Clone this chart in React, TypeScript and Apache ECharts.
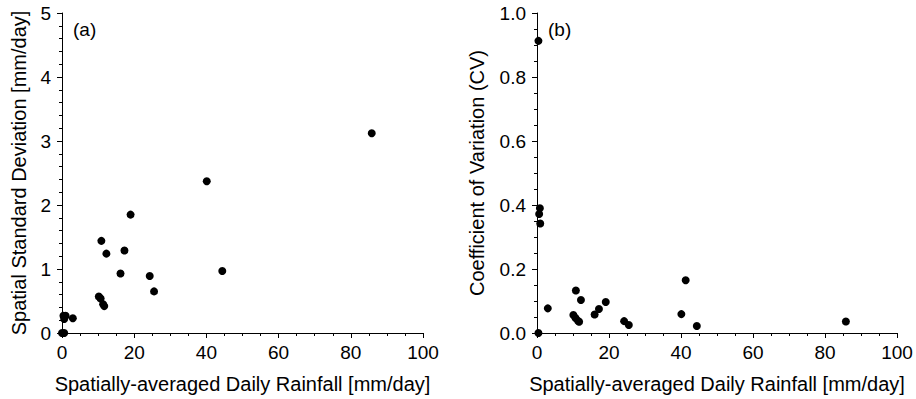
import React, { useEffect, useRef } from "react";
import * as echarts from "echarts";

// Panel (a): spatially-averaged daily rainfall vs spatial standard deviation
const rainA = [85.8, 40.1, 19.0, 10.9, 17.3, 12.3, 16.2, 24.3, 44.4, 25.5, 10.2, 10.7, 11.4, 11.7, 3.0, 0.4, 1.0, 0.6, 0.0, 0.6];
const sdA = [3.12, 2.37, 1.85, 1.44, 1.29, 1.24, 0.93, 0.89, 0.97, 0.65, 0.57, 0.54, 0.45, 0.42, 0.23, 0.27, 0.27, 0.22, 0.0, 0.0];

// Panel (b): spatially-averaged daily rainfall vs coefficient of variation
const rainB = [0.4, 0.8, 0.6, 0.9, 0.4, 3.0, 10.8, 12.2, 10.1, 10.7, 11.4, 11.7, 16.0, 17.2, 19.1, 24.2, 25.5, 40.1, 41.3, 44.4, 85.8];
const cvB = [0.913, 0.39, 0.372, 0.342, 0.0, 0.077, 0.133, 0.103, 0.056, 0.047, 0.038, 0.035, 0.058, 0.075, 0.097, 0.037, 0.025, 0.059, 0.165, 0.022, 0.036];

const xTitle = "Spatially-averaged Daily Rainfall [mm/day]";
const yTitleA = "Spatial Standard Deviation [mm/day]";
const yTitleB = "Coefficient of Variation (CV)";

const FONT = "Liberation Sans, Arial, sans-serif";

export default function App() {
  const ref = useRef<HTMLDivElement>(null);
  useEffect(() => {
    if (!ref.current) return;
    const chart = echarts.init(ref.current, null, { renderer: "svg" });
    const axisCommon = {
      axisLine: { show: true, onZero: false, lineStyle: { color: "#000", width: 1 } },
      axisTick: { show: true, inside: false, length: 5, lineStyle: { color: "#000" } },
      minorTick: { show: true, length: 3, lineStyle: { color: "#000" } },
      splitLine: { show: false },
      axisLabel: { color: "#000", fontSize: 19, fontFamily: FONT },
      nameTextStyle: { color: "#000", fontSize: 20, fontFamily: FONT },
      nameLocation: "middle" as const,
    };
    chart.setOption({
      animation: false,
      backgroundColor: "#fff",
      textStyle: { fontFamily: FONT },
      grid: [
        { left: 62, right: 493, top: 13, bottom: 63 },
        { left: 537, right: 19, top: 13, bottom: 63 },
      ],
      xAxis: [0, 1].map((i) => ({
        ...axisCommon,
        type: "value",
        gridIndex: i,
        min: 0,
        max: 100,
        interval: 20,
        minorTick: { ...axisCommon.minorTick, splitNumber: 4 },
        axisLabel: { ...axisCommon.axisLabel, margin: 10 },
        name: xTitle,
        nameGap: 41,
      })),
      yAxis: [
        {
          ...axisCommon,
          type: "value",
          gridIndex: 0,
          min: 0,
          max: 5,
          interval: 1,
          minorTick: { ...axisCommon.minorTick, splitNumber: 5 },
          axisLabel: { ...axisCommon.axisLabel, margin: 11 },
          name: yTitleA,
          nameGap: 33,
        },
        {
          ...axisCommon,
          type: "value",
          gridIndex: 1,
          min: 0,
          max: 1,
          interval: 0.2,
          minorTick: { ...axisCommon.minorTick, splitNumber: 4 },
          axisLabel: { ...axisCommon.axisLabel, margin: 11, formatter: (v: number) => v.toFixed(1) },
          name: yTitleB,
          nameGap: 50,
        },
      ],
      series: [
        {
          type: "scatter",
          xAxisIndex: 0,
          yAxisIndex: 0,
          symbol: "circle",
          symbolSize: 8,
          itemStyle: { color: "#000", opacity: 1 },
          data: rainA.map((x, i) => [x, sdA[i]]),
          clip: false,
        },
        {
          type: "scatter",
          xAxisIndex: 1,
          yAxisIndex: 1,
          symbol: "circle",
          symbolSize: 8,
          itemStyle: { color: "#000", opacity: 1 },
          data: rainB.map((x, i) => [x, cvB[i]]),
          clip: false,
        },
      ],
      graphic: [
        { type: "text", left: 73, top: 20, style: { text: "(a)", fill: "#000", fontSize: 19, fontFamily: FONT } },
        { type: "text", left: 548, top: 20, style: { text: "(b)", fill: "#000", fontSize: 19, fontFamily: FONT } },
      ],
    });
    return () => chart.dispose();
  }, []);
  return <div ref={ref} style={{ width: 916, height: 399, position: "absolute", left: 0, top: 0 }} />;
}
